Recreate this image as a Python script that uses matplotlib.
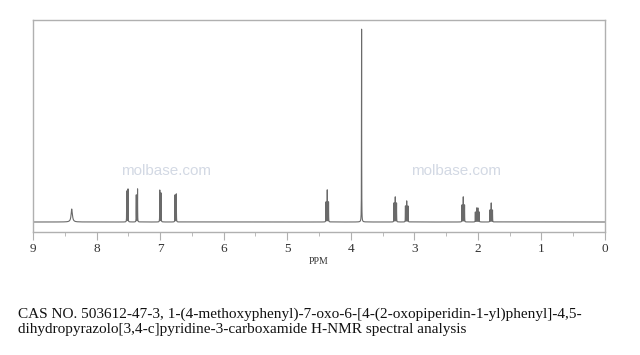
import numpy as np
import matplotlib
matplotlib.use("Agg")
import matplotlib.pyplot as plt

# peak lines: (ppm, height in px above baseline)
peak_ppm = [8.39,
            7.525, 7.505, 7.375, 7.355,
            7.005, 6.985, 6.765, 6.745,
            4.39, 4.37, 4.35,
            3.83,
            3.32, 3.30, 3.28,
            3.14, 3.12, 3.10,
            2.25, 2.23, 2.21,
            2.04, 2.02, 2.00, 1.98,
            1.81, 1.79, 1.77]
peak_height = [13,
               31, 33, 27, 33,
               32, 29, 27, 28,
               20, 32, 20,
               193,
               19, 25, 19,
               16, 21, 16,
               17, 25, 17,
               10, 14, 14, 10,
               12, 19, 12]
peak_width = [0.012,
              0.0015, 0.0015, 0.0015, 0.0015,
              0.0015, 0.0015, 0.0015, 0.0015,
              0.0015, 0.0015, 0.0015,
              0.0015,
              0.0015, 0.0015, 0.0015,
              0.0015, 0.0015, 0.0015,
              0.0015, 0.0015, 0.0015,
              0.0015, 0.0015, 0.0015, 0.0015,
              0.0015, 0.0015, 0.0015]

ppm_ticks = [9, 8, 7, 6, 5, 4, 3, 2, 1, 0]
caption = ("CAS NO. 503612-47-3, 1-(4-methoxyphenyl)-7-oxo-6-[4-(2-oxopiperidin-1-yl)phenyl]-4,5-\n"
           "dihydropyrazolo[3,4-c]pyridine-3-carboxamide H-NMR spectral analysis")

# Lorentzian line shapes on a dense grid
x = np.linspace(0, 9, 40000)
y = np.zeros_like(x)
for p, h, w in zip(peak_ppm, peak_height, peak_width):
    y += h * w**2 / ((x - p)**2 + w**2)

fig = plt.figure(figsize=(6.4, 3.55), dpi=100)
ax = fig.add_axes([33/640, 1-232/355, (605-33)/640, (232-20)/355])
ax.plot(x, y, color="#6a6a6a", lw=0.8)
ax.set_xlim(9, 0)
ax.set_ylim(-10, 202)

frame = "#b0b0b0"
for s in ax.spines.values():
    s.set_color(frame)
    s.set_linewidth(1.0)
ax.set_yticks([])
ax.set_xticks(ppm_ticks)
ax.set_xticks(np.arange(0.5, 9, 1.0), minor=True)
ax.tick_params(axis="x", which="major", direction="out", length=6, color=frame, pad=2)
ax.tick_params(axis="x", which="minor", direction="out", length=3, color=frame)
ax.set_xticklabels([str(t) for t in ppm_ticks], fontfamily="Liberation Serif", fontsize=9.5, color="#333333")
ax.set_xlabel("PPM", fontfamily="Liberation Serif", fontsize=7, color="#333333", labelpad=1)

for fx in (166/640, 456/640):
    fig.text(fx, 1-171/355, "molbase.com", ha="center", va="center",
             fontfamily="Liberation Sans", fontsize=11, color="#d3d9e4")

fig.text(18/640, 1-322/355, caption, ha="left", va="center", fontfamily="Liberation Serif",
         fontsize=11, color="#111111", linespacing=1.25)

fig.savefig("out.png", dpi=100)
